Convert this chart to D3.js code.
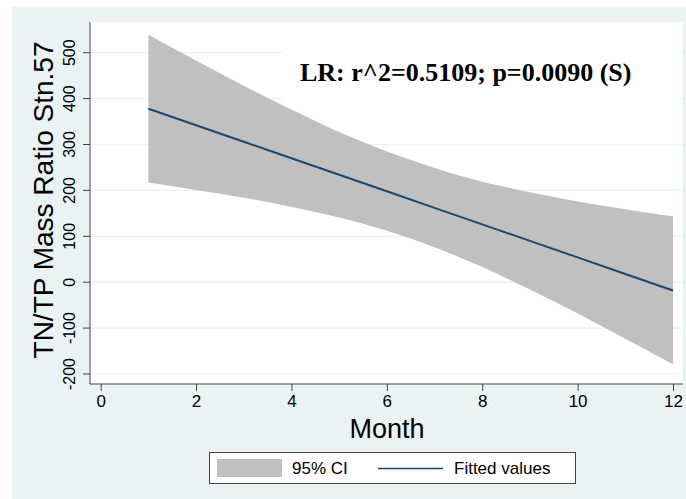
<!DOCTYPE html>
<meta charset="utf-8">
<script src="https://cdn.jsdelivr.net/npm/d3@7"></script>
<style>
body { margin: 0; background: #fff; }
text { font-family: Arial, "Liberation Sans", sans-serif; fill: #000; }
</style>
<body>
<script>

// data
var months = [1, 2, 3, 4, 5, 6, 7, 8, 9, 10, 11, 12];
var fitted = [378, 342, 306, 270, 234, 198, 162, 126, 90, 54, 18, -18];
var ciUpper = [539, 483, 428, 376, 327, 285, 249, 219, 196, 176, 159, 143];
var ciLower = [217, 201, 184, 164, 141, 112, 76, 33, -16, -68, -123, -179];
var xTicks = [0, 2, 4, 6, 8, 10, 12];
var yTicks = [-200, -100, 0, 100, 200, 300, 400, 500];
var statText = "LR: r^2=0.5109; p=0.0090 (S)";

var width = 686, height = 499;

var svg = d3.select("body").append("svg")
    .attr("width", width)
    .attr("height", height);

// outer background
svg.append("rect")
    .attr("x", 12).attr("y", 7)
    .attr("width", width - 12).attr("height", height - 7)
    .attr("fill", "#eaf2f3");

var plot = {left: 90, top: 22, right: 683, bottom: 384};

var x = d3.scaleLinear().domain([0, 12]).range([100.7, 673]);
var y = d3.scaleLinear().domain([-200, 500]).range([374, 52.7]);

svg.append("rect")
    .attr("x", plot.left).attr("y", plot.top)
    .attr("width", plot.right - plot.left).attr("height", plot.bottom - plot.top)
    .attr("fill", "#fff");

// grid
svg.append("g").selectAll("line")
    .data(yTicks)
  .enter().append("line")
    .attr("x1", plot.left).attr("x2", plot.right)
    .attr("y1", function(d) { return y(d); })
    .attr("y2", function(d) { return y(d); })
    .attr("stroke", "#eaf2f3")
    .attr("stroke-width", 1.2);

// white box behind the stat label (hides grid only)
svg.append("rect")
    .attr("x", 282).attr("y", 23)
    .attr("width", 396).attr("height", 96)
    .attr("fill", "#fff");

var rows = months.map(function(m, i) {
  return {m: m, fit: fitted[i], lo: ciLower[i], hi: ciUpper[i]};
});

// CI band
svg.append("path")
    .datum(rows)
    .attr("fill", "#c0c0c0")
    .attr("d", d3.area()
      .curve(d3.curveMonotoneX)
      .x(function(d) { return x(d.m); })
      .y0(function(d) { return y(d.lo); })
      .y1(function(d) { return y(d.hi); }));

// fitted line
svg.append("path")
    .datum(rows)
    .attr("fill", "none")
    .attr("stroke", "#1a476f")
    .attr("stroke-width", 2)
    .attr("d", d3.line()
      .x(function(d) { return x(d.m); })
      .y(function(d) { return y(d.fit); }));

svg.append("text")
    .attr("x", 300).attr("y", 81)
    .style("font-family", "'Liberation Serif', 'Times New Roman', serif")
    .style("font-weight", "bold")
    .style("font-size", "26px")
    .text(statText);

// axes
var xAxis = svg.append("g")
    .attr("transform", "translate(0," + plot.bottom + ")")
    .call(d3.axisBottom(x).tickValues(xTicks).tickFormat(String).tickSize(7).tickPadding(4));
xAxis.select(".domain").attr("d", "M" + plot.left + ",0H" + plot.right);
xAxis.selectAll("text").style("font-size", "17px").attr("fill", "#000");

var yAxis = svg.append("g")
    .attr("transform", "translate(" + plot.left + ",0)")
    .call(d3.axisLeft(y).tickValues(yTicks).tickFormat(String).tickSize(7).tickPadding(0));
yAxis.select(".domain").attr("d", "M0," + plot.top + "V" + plot.bottom);
yAxis.selectAll(".tick").attr("transform", null);
yAxis.selectAll(".tick text")
    .attr("transform", function(d) { return "translate(-15," + y(d) + ") rotate(-90)"; })
    .attr("x", 0).attr("y", 0).attr("dy", 0)
    .attr("text-anchor", "middle")
    .style("font-size", "16px")
    .attr("fill", "#000");
yAxis.selectAll(".tick line")
    .attr("y1", function(d) { return y(d); })
    .attr("y2", function(d) { return y(d); });

svg.selectAll(".domain, .tick line").attr("stroke", "#444");

// axis titles
svg.append("text")
    .attr("x", 387).attr("y", 438)
    .attr("text-anchor", "middle")
    .style("font-size", "27px")
    .text("Month");

svg.append("text")
    .attr("transform", "translate(53,200) rotate(-90)")
    .attr("text-anchor", "middle")
    .style("font-size", "28px")
    .text("TN/TP Mass Ratio Stn.57");

// legend
var legend = svg.append("g");
legend.append("rect")
    .attr("x", 209.5).attr("y", 452.5)
    .attr("width", 366).attr("height", 31)
    .attr("fill", "#fff")
    .attr("stroke", "#444");
legend.append("rect")
    .attr("x", 217).attr("y", 459)
    .attr("width", 65).attr("height", 18)
    .attr("fill", "#c0c0c0");
legend.append("text")
    .attr("x", 292).attr("y", 474)
    .style("font-size", "17px")
    .text("95% CI");
legend.append("line")
    .attr("x1", 378).attr("x2", 443)
    .attr("y1", 468.5).attr("y2", 468.5)
    .attr("stroke", "#1a476f")
    .attr("stroke-width", 1.5);
legend.append("text")
    .attr("x", 454).attr("y", 474)
    .style("font-size", "17px")
    .text("Fitted values");

</script>
</body>
